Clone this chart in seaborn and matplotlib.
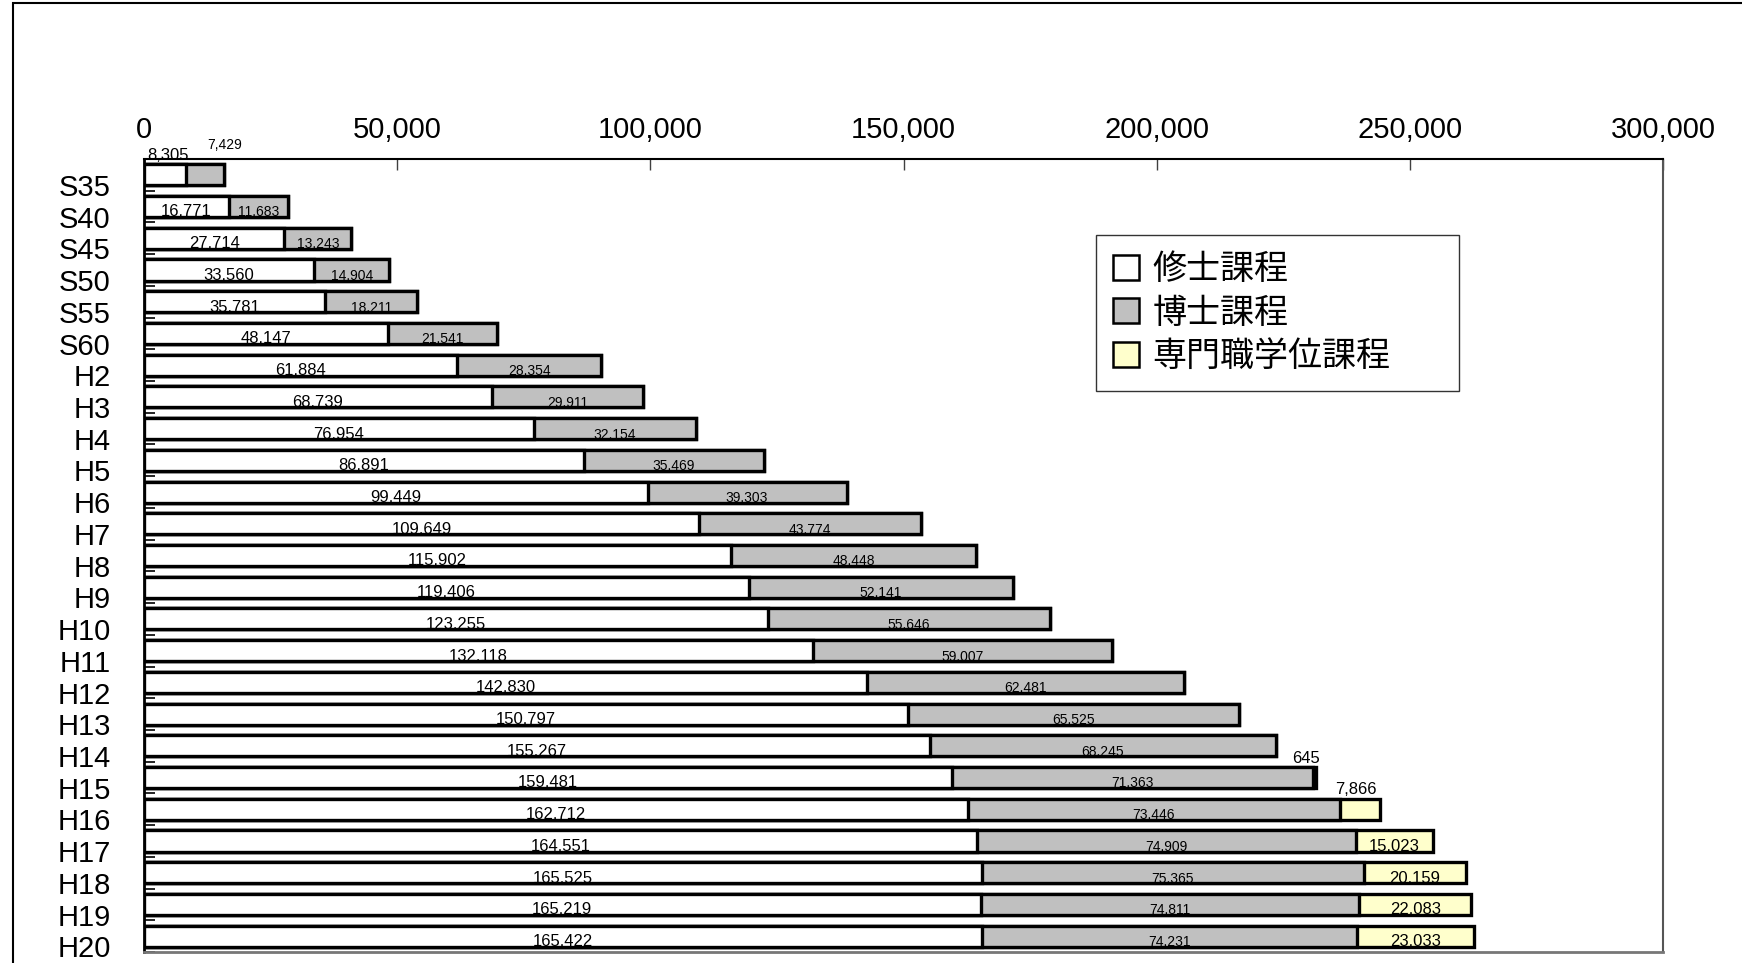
import numpy as np
import pandas as pd
import matplotlib
matplotlib.use("Agg")
import matplotlib.pyplot as plt
import seaborn as sns
from matplotlib.patches import Patch, Rectangle

# ---------------- data ----------------
years = ["S35", "S40", "S45", "S50", "S55", "S60", "H2", "H3", "H4", "H5",
         "H6", "H7", "H8", "H9", "H10", "H11", "H12", "H13", "H14", "H15",
         "H16", "H17", "H18", "H19", "H20"]
master = [8305, 16771, 27714, 33560, 35781, 48147, 61884, 68739, 76954, 86891,
          99449, 109649, 115902, 119406, 123255, 132118, 142830, 150797, 155267, 159481,
          162712, 164551, 165525, 165219, 165422]
doctor = [7429, 11683, 13243, 14904, 18211, 21541, 28354, 29911, 32154, 35469,
          39303, 43774, 48448, 52141, 55646, 59007, 62481, 65525, 68245, 71363,
          73446, 74909, 75365, 74811, 74231]
prof = [0, 0, 0, 0, 0, 0, 0, 0, 0, 0,
        0, 0, 0, 0, 0, 0, 0, 0, 0, 645,
        7866, 15023, 20159, 22083, 23033]
series_names = ["修士課程", "博士課程", "専門職学位課程"]
x_ticks = [0, 50000, 100000, 150000, 200000, 250000, 300000]

# ---------------- style ----------------
colors = ["#FFFFFF", "#C0C0C0", "#FFFFCC"]
tick_font = ["Liberation Sans", "DejaVu Sans"]
cjk_font = ["Noto Sans CJK JP", "DejaVu Sans"]
bar_w = 0.665

df = pd.DataFrame({"year": years, "master": master, "doctor": doctor, "prof": prof})
df["md"] = df["master"] + df["doctor"]
df["total"] = df["md"] + df["prof"]

W, H = 1742, 963
fig = plt.figure(figsize=(W / 100, H / 100), dpi=100)
ax = fig.add_axes([144 / W, (H - 952) / H, 1519 / W, 793 / H])

# stacked bars drawn as overlaid cumulative totals
for col, c in [("total", colors[2]), ("md", colors[1]), ("master", colors[0])]:
    sns.barplot(data=df, y="year", x=col, order=years, orient="h", color=c,
                saturation=1, edgecolor="black", linewidth=2.4, width=bar_w,
                errorbar=None, ax=ax)

n = len(years)
ax.set_xlim(0, 300000)
ax.set_ylim(n - 0.5, -0.5)
ax.set_xlabel("")
ax.set_ylabel("")

# x axis on top
ax.xaxis.tick_top()
ax.set_xticks(x_ticks)
ax.set_xticklabels([f"{v:,}" for v in x_ticks], family=tick_font, fontsize=21)
ax.tick_params(axis="x", which="major", direction="in", length=8, width=1,
               color="#404040", pad=11, top=True, bottom=False)

# y labels (slightly below bar centres, as in original)
ax.set_yticks(np.arange(n) + 0.32)
ax.set_yticklabels(years, family=tick_font, fontsize=21)
ax.tick_params(axis="y", which="major", length=0, pad=24)
ax.set_yticks(np.arange(n) + 0.5, minor=True)
ax.tick_params(axis="y", which="minor", direction="in", length=8, width=1.2,
               color="black", left=True)

for side, c, lw in [("top", "black", 1.5), ("left", "black", 2), ("right", "#555555", 1.5),
                    ("bottom", "#777777", 2)]:
    ax.spines[side].set_color(c)
    ax.spines[side].set_linewidth(lw)

# value labels
half = bar_w / 2
above_offsets = {(0, 0): (2, 1), (0, 1): (14, 9), (19, 2): (-6, 1), (20, 2): (-3, 1)}
for i in range(n):
    segs = [(0, master[i], 0, 12), (master[i], doctor[i], 1, 10),
            (master[i] + doctor[i], prof[i], 2, 12)]
    for left, val, k, fs in segs:
        if val <= 0:
            continue
        xc = left + val / 2
        if (i, k) in above_offsets:
            dx, dy = above_offsets[(i, k)]
            ax.annotate(f"{val:,}", (xc, i - half), xytext=(dx, dy),
                        textcoords="offset points", ha="center", va="bottom",
                        fontsize=12 if k != 1 else 10, family=tick_font,
                        annotation_clip=False)
        else:
            ax.text(xc, i + half - 0.02, f"{val:,}", ha="center", va="baseline",
                    fontsize=fs, family=tick_font)

# legend
handles = [Patch(facecolor=c, edgecolor="black", linewidth=1.8) for c in colors]
leg = ax.legend(handles, series_names, loc="upper left",
                bbox_to_anchor=(0.627, 0.712, 0.239, 0.192), mode="expand",
                prop={"family": cjk_font, "size": 24.5}, frameon=True, fancybox=False,
                handlelength=0.75, handleheight=0.75, handletextpad=0.4,
                borderpad=0.5, labelspacing=0.25, borderaxespad=0)
leg.get_frame().set_edgecolor("black")
leg.get_frame().set_linewidth(1)

# outer chart frame
fig.patches.append(Rectangle((13 / W, -0.05), 1.2, (H - 3) / H + 0.05,
                             transform=fig.transFigure, fill=False,
                             edgecolor="black", linewidth=1.5))

fig.savefig("out.png", dpi=100, facecolor="white")
